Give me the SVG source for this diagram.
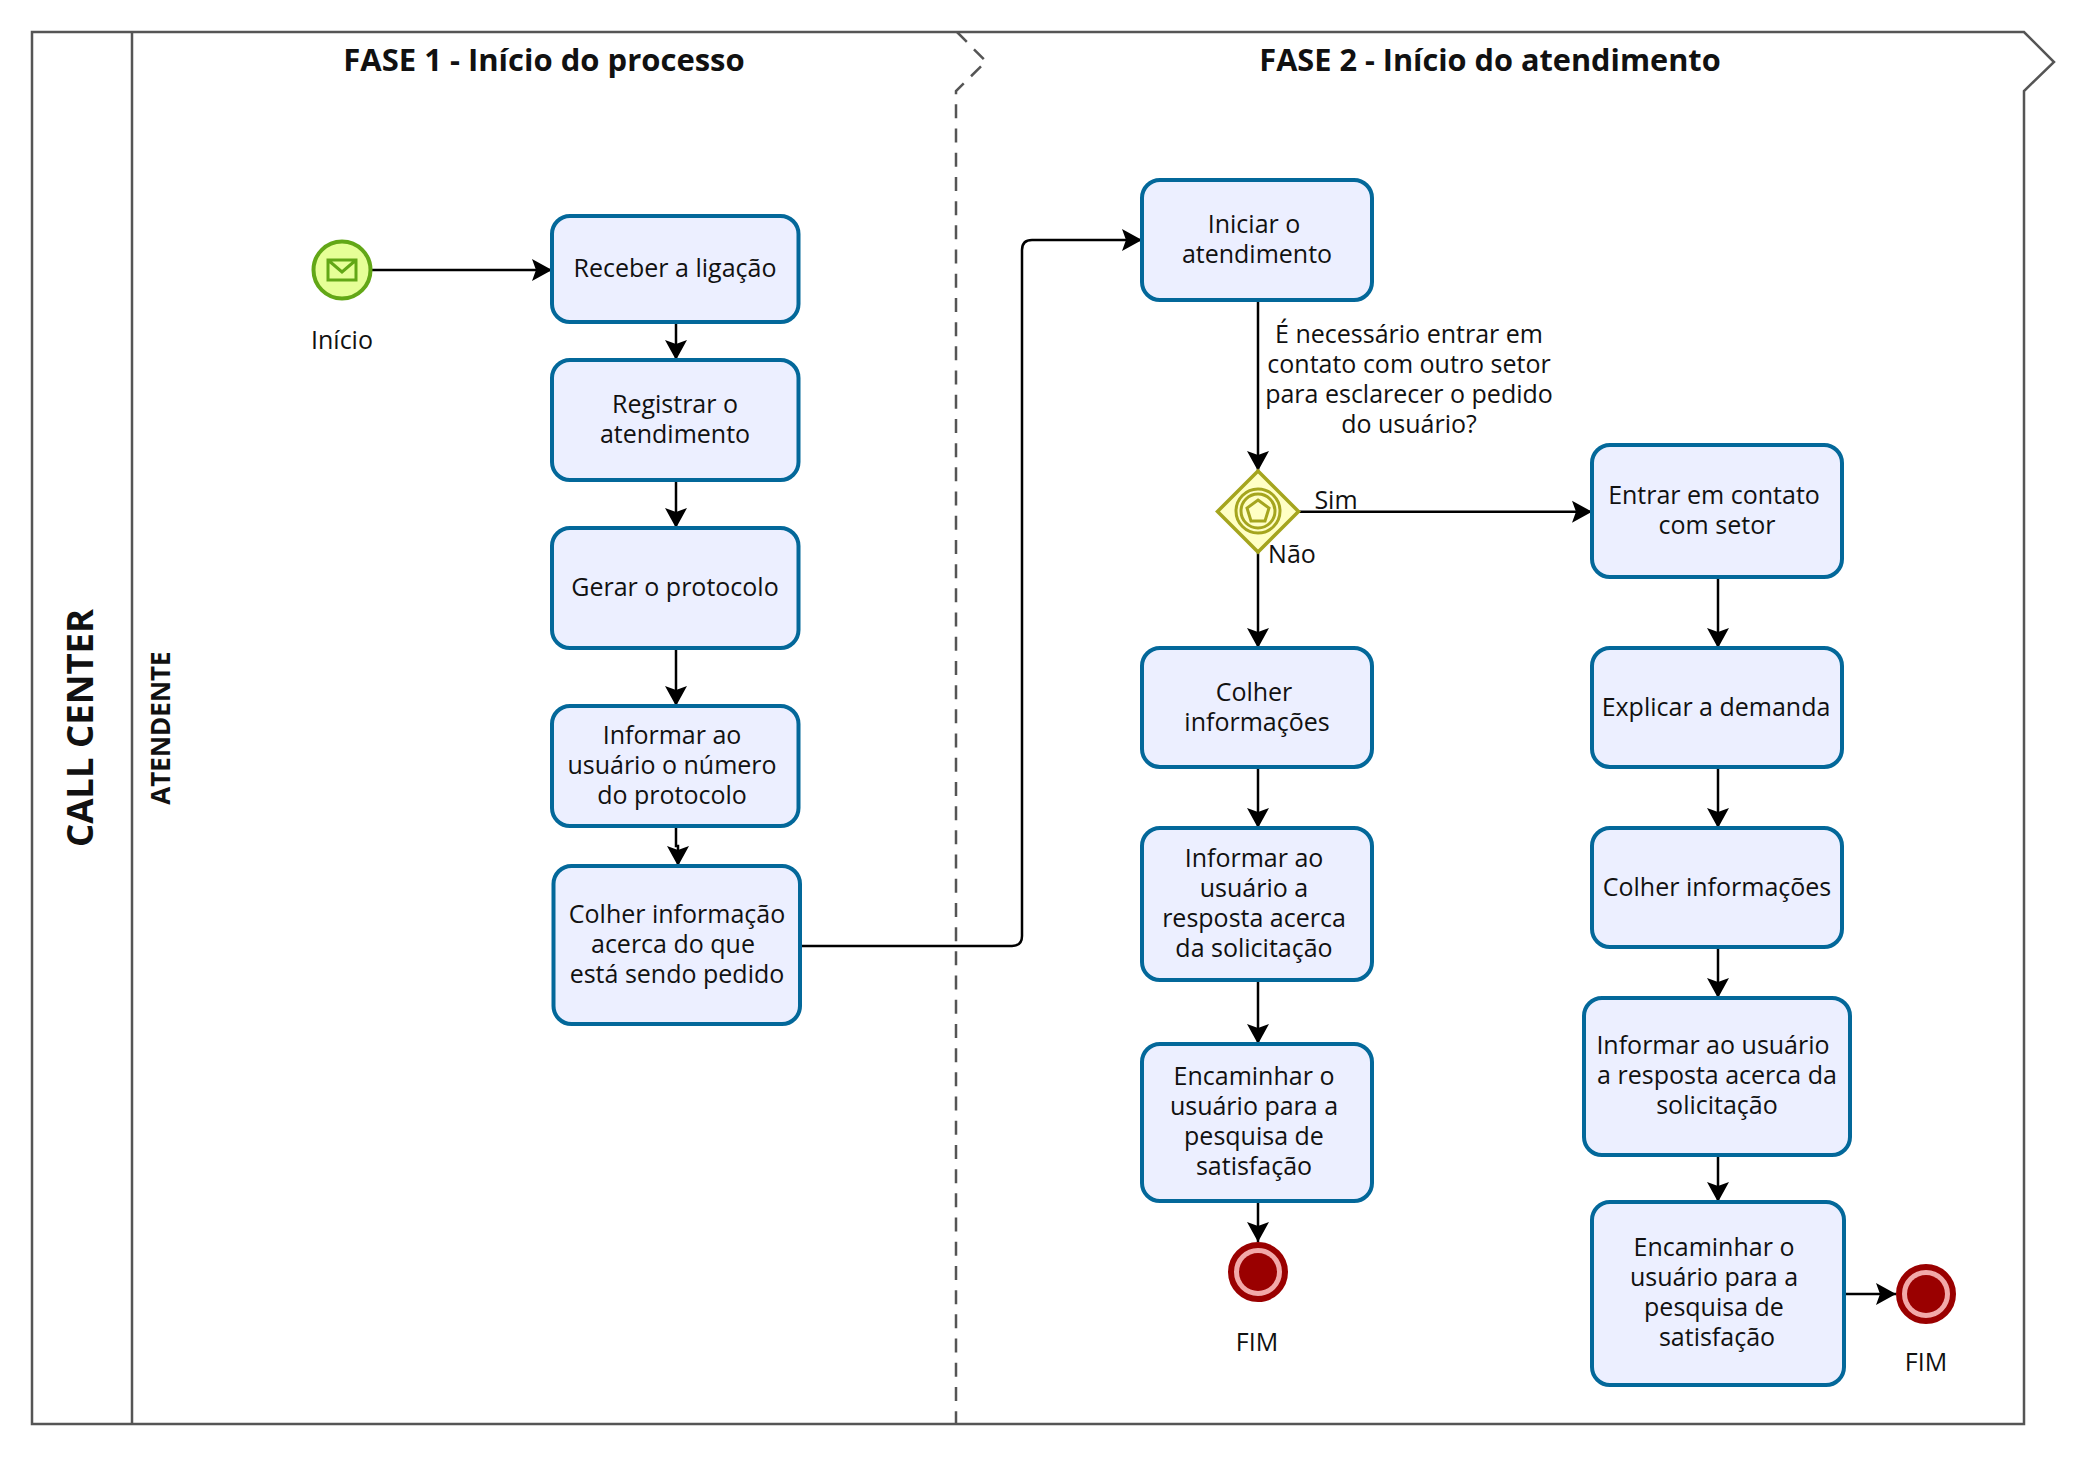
<svg xmlns="http://www.w3.org/2000/svg" width="2074" height="1466" viewBox="0 0 2074 1466">
<style>
text{font-family:"Open Sans","Noto Sans","Liberation Sans",sans-serif;fill:#111;font-size:25px;text-anchor:middle}
.task{fill:#ecefff;stroke:#03689a;stroke-width:4}
.pool{fill:#fff;stroke:#555;stroke-width:2.5}
.cn{fill:none;stroke:#000;stroke-width:2.5}
.h{font-weight:700;font-size:31px}
.cc{font-weight:700;font-size:36.500px}
.hs{font-weight:700;font-size:26px}
</style>
<defs>
<marker id="arr" markerUnits="userSpaceOnUse" markerWidth="24" markerHeight="26" refX="20" refY="12" orient="auto">
<path d="M0 1 L20 12 L0 23 L4 12 Z" fill="#000"/>
</marker>
</defs>
<g id="pool">
<path class="pool" d="M32 32H2024L2054 62L2024 91V1424H32Z"/>
<path class="pool" d="M132 32V1424"/>
<path class="pool" d="M957 32L986 61.500L956 91V1424" stroke-dasharray="14 10.200" style="fill:none"/>
<text class="cc" transform="translate(93 728) rotate(-90)">CALL CENTER</text>
<text class="hs" transform="translate(170 728) rotate(-90)">ATENDENTE</text>
<text class="h" x="544" y="71">FASE 1 - Início do processo</text>
<text class="h" x="1490" y="71" style="font-size:30.700px">FASE 2 - Início do atendimento</text>
</g>
<g id="connectors">
<path class="cn" marker-end="url(#arr)" d="M372 270H552"/>
<path class="cn" marker-end="url(#arr)" d="M676 322V360"/>
<path class="cn" marker-end="url(#arr)" d="M676 480V528"/>
<path class="cn" marker-end="url(#arr)" d="M676 648V706"/>
<path class="cn" marker-end="url(#arr)" d="M676 826V846H678V866"/>
<path class="cn" marker-end="url(#arr)" d="M800 946H1012Q1022 946 1022 936V250Q1022 240 1032 240H1142"/>
<path class="cn" marker-end="url(#arr)" d="M1258 300V471"/>
<path class="cn" marker-end="url(#arr)" d="M1298 511.700H1592"/>
<path class="cn" marker-end="url(#arr)" d="M1258 552V648"/>
<path class="cn" marker-end="url(#arr)" d="M1258 767V828"/>
<path class="cn" marker-end="url(#arr)" d="M1258 980V1044"/>
<path class="cn" marker-end="url(#arr)" d="M1258 1201V1242"/>
<path class="cn" marker-end="url(#arr)" d="M1718 577V648"/>
<path class="cn" marker-end="url(#arr)" d="M1718 767V828"/>
<path class="cn" marker-end="url(#arr)" d="M1718 947V998"/>
<path class="cn" marker-end="url(#arr)" d="M1718 1155V1202"/>
<path class="cn" marker-end="url(#arr)" d="M1844 1294H1896"/>
</g>
<g id="start"><circle cx="342" cy="270" r="28.500" fill="#e6ff97" stroke="#62a716" stroke-width="4"/>
<path d="M328 260H356V280H328ZM328 260L342 272L356 260" fill="none" stroke="#62a716" stroke-width="3"/>
<text x="342" y="349">Início</text></g>
<g id="t1"><rect class="task" x="552" y="216" width="246.500" height="106" rx="18"/><text x="675" y="277">Receber a ligação</text></g>
<g id="t2"><rect class="task" x="552" y="360" width="246.500" height="120" rx="18"/><text x="675" y="413">Registrar o</text><text x="675" y="443">atendimento</text></g>
<g id="t3"><rect class="task" x="552" y="528" width="246.500" height="120" rx="18"/><text x="675" y="596">Gerar o protocolo</text></g>
<g id="t4"><rect class="task" x="552" y="706" width="246.500" height="120" rx="18"/><text x="672" y="744">Informar ao</text><text x="672" y="774">usuário o número</text><text x="672" y="804">do protocolo</text></g>
<g id="t5"><rect class="task" x="553.500" y="866" width="246.500" height="158" rx="18"/><text x="677" y="923">Colher informação</text><text x="673" y="953">acerca do que</text><text x="677" y="983">está sendo pedido</text></g>
<g id="t6"><rect class="task" x="1142" y="180" width="230" height="120" rx="18"/><text x="1254" y="233">Iniciar o</text><text x="1257" y="263">atendimento</text></g>
<g id="q"><text x="1409" y="343">É necessário entrar em</text><text x="1409" y="373">contato com outro setor</text><text x="1409" y="403">para esclarecer o pedido</text><text x="1409" y="433">do usuário?</text></g>
<g id="gw"><path d="M1258 471L1298.500 511.500L1258 552L1217.500 511.500Z" fill="#ffffc5" stroke="#a5a51e" stroke-width="3.500"/>
<circle cx="1258" cy="511" r="22" fill="none" stroke="#a5a51e" stroke-width="3"/><circle cx="1258" cy="511" r="17" fill="none" stroke="#a5a51e" stroke-width="3"/>
<path d="M1258 500L1269 508L1265 521H1251L1247 508Z" fill="none" stroke="#a5a51e" stroke-width="3"/>
<text x="1336" y="509">Sim</text><text x="1292" y="563">Não</text></g>
<g id="t7"><rect class="task" x="1142" y="648" width="230" height="119" rx="18"/><text x="1254" y="701">Colher</text><text x="1257" y="731">informações</text></g>
<g id="t8"><rect class="task" x="1142" y="828" width="230" height="152" rx="18"/><text x="1254" y="867">Informar ao</text><text x="1254" y="897">usuário a</text><text x="1254" y="927">resposta acerca</text><text x="1254" y="957">da solicitação</text></g>
<g id="t9"><rect class="task" x="1142" y="1044" width="230" height="157" rx="18"/><text x="1254" y="1085">Encaminhar o</text><text x="1254" y="1115">usuário para a</text><text x="1254" y="1145">pesquisa de</text><text x="1254" y="1175">satisfação</text></g>
<g id="e1"><circle cx="1258" cy="1272" r="27" fill="#f2a9a9" stroke="#9a0000" stroke-width="6"/><circle cx="1258" cy="1272" r="19" fill="#9a0000"/><text x="1257" y="1351">FIM</text></g>
<g id="t10"><rect class="task" x="1592" y="445" width="250" height="132" rx="18"/><text x="1714" y="504">Entrar em contato</text><text x="1717" y="534">com setor</text></g>
<g id="t11"><rect class="task" x="1592" y="648" width="250" height="119" rx="18"/><text x="1716" y="716">Explicar a demanda</text></g>
<g id="t12"><rect class="task" x="1592" y="828" width="250" height="119" rx="18"/><text x="1717" y="896">Colher informações</text></g>
<g id="t13"><rect class="task" x="1584" y="998" width="266" height="157" rx="18"/><text x="1713" y="1054">Informar ao usuário</text><text x="1717" y="1084">a resposta acerca da</text><text x="1717" y="1114">solicitação</text></g>
<g id="t14"><rect class="task" x="1592" y="1202" width="252" height="183" rx="18"/><text x="1714" y="1256">Encaminhar o</text><text x="1714" y="1286">usuário para a</text><text x="1714" y="1316">pesquisa de</text><text x="1717" y="1346">satisfação</text></g>
<g id="e2"><circle cx="1926" cy="1294" r="27" fill="#f2a9a9" stroke="#9a0000" stroke-width="6"/><circle cx="1926" cy="1294" r="19" fill="#9a0000"/><text x="1926" y="1371">FIM</text></g>
</svg>
